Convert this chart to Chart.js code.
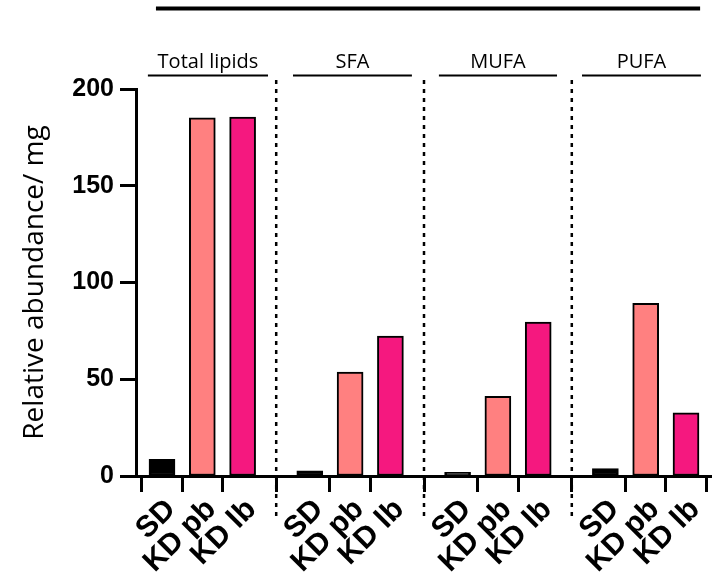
<!DOCTYPE html>
<html>
<head>
<meta charset="utf-8">
<script src="https://cdn.jsdelivr.net/npm/chart.js@4/dist/chart.umd.min.js"></script>
<style>
  html, body { margin: 0; padding: 0; background: #fff; }
  #wrap { width: 712px; height: 578px; }
</style>
</head>
<body>
<div id="wrap"><canvas id="c" width="712" height="578"></canvas></div>
<script>
// Lipid classes shown as bar groups, and the diet conditions inside each group
const groups = ['Total lipids', 'SFA', 'MUFA', 'PUFA'];
const conditions = ['SD', 'KD pb', 'KD lb'];

// Relative abundance per mg, one value per lipid class
const sdValues   = [8.6, 2.7, 1.9, 3.8];
const kdPbValues = [185.1, 53.7, 41.2, 89.2];
const kdLbValues = [185.5, 72.3, 79.6, 32.7];

const yTicks = [0, 50, 100, 150, 200];

const seriesValues = [sdValues, kdPbValues, kdLbValues];
const seriesColors = ['#000000', '#FF8080', '#F5187F'];

// Layout along the x scale: one slot per bar, groups separated by a wider gap
const GROUP_STEP = 11 / 3;
const xPos = (g, i) => g * GROUP_STEP + i;
const tickPositions = [];
groups.forEach((_, g) => conditions.forEach((_, i) => tickPositions.push(xPos(g, i))));

// Header underline spans (in slot units) for each lipid class
const headerSpans = [[-0.35, 2.63], [3.25, 6.20], [6.87, 9.80], [10.42, 13.37]];

const datasets = conditions.map((name, i) => ({
  label: name,
  data: seriesValues[i].map((v, g) => ({ x: xPos(g, i), y: v })),
  backgroundColor: seriesColors[i],
  borderColor: '#000000',
  borderWidth: 2,
  borderSkipped: false,
  barThickness: 26,
  grouped: false
}));

const annotations = {
  id: 'annotations',
  afterDraw(chart) {
    const { ctx, scales: { x, y } } = chart;
    ctx.save();

    // long bar across the top
    ctx.strokeStyle = '#000';
    ctx.lineWidth = 4;
    ctx.beginPath();
    ctx.moveTo(x.getPixelForValue(-0.15), 8.5);
    ctx.lineTo(x.getPixelForValue(13.35), 8.5);
    ctx.stroke();

    // lipid class headers with their underlines
    ctx.lineWidth = 2;
    ctx.fillStyle = '#000';
    ctx.font = '20px "Open Sans"';
    ctx.textAlign = 'center';
    ctx.textBaseline = 'alphabetic';
    groups.forEach((name, g) => {
      const x0 = x.getPixelForValue(headerSpans[g][0]);
      const x1 = x.getPixelForValue(headerSpans[g][1]);
      ctx.beginPath();
      ctx.moveTo(x0, 75.5);
      ctx.lineTo(x1, 75.5);
      ctx.stroke();
      ctx.fillText(name, (x0 + x1) / 2, 68);
    });

    // dotted separators between lipid classes
    ctx.setLineDash([4, 5]);
    ctx.lineWidth = 2.5;
    for (let g = 0; g < groups.length - 1; g++) {
      const px = x.getPixelForValue((xPos(g, 2) + xPos(g + 1, 0)) / 2);
      ctx.beginPath();
      ctx.moveTo(px, 80);
      ctx.lineTo(px, 519);
      ctx.stroke();
    }
    ctx.setLineDash([]);

    // y axis title
    ctx.translate(43, (y.top + y.bottom) / 2);
    ctx.rotate(-Math.PI / 2);
    ctx.font = '28px "Open Sans"';
    ctx.textAlign = 'center';
    ctx.fillText('Relative abundance/ mg', 0, 0);
    ctx.restore();
  }
};

new Chart(document.getElementById('c'), {
  type: 'bar',
  data: { datasets },
  plugins: [annotations],
  options: {
    responsive: false,
    animation: false,
    layout: { padding: { top: 89, left: 0, right: 0, bottom: 0 } },
    plugins: { legend: { display: false }, tooltip: { enabled: false } },
    scales: {
      x: {
        type: 'linear',
        min: -0.645,
        max: 13.645,
        offset: false,
        afterBuildTicks: s => { s.ticks = tickPositions.map(v => ({ value: v })); },
        afterFit: s => { s.height = 102; },
        ticks: {
          autoSkip: false,
          minRotation: 45,
          maxRotation: 45,
          padding: 0,
          labelOffset: 9,
          color: '#000',
          font: { family: '"Liberation Sans", Arial, sans-serif', weight: 'bold', size: 30 },
          callback: (v, idx) => conditions[idx % conditions.length]
        },
        grid: { drawOnChartArea: false, drawTicks: true, tickLength: 16, tickWidth: 3, tickColor: '#000' },
        border: { display: true, width: 3, color: '#000' }
      },
      y: {
        min: 0,
        max: 200,
        afterBuildTicks: s => { s.ticks = yTicks.map(v => ({ value: v })); },
        afterFit: s => { s.width = 136; },
        ticks: {
          padding: 6,
          color: '#000',
          font: { family: '"Liberation Sans", Arial, sans-serif', weight: 'bold', size: 25 }
        },
        grid: { drawOnChartArea: false, drawTicks: true, tickLength: 16, tickWidth: 3, tickColor: '#000' },
        border: { display: true, width: 3, color: '#000' }
      }
    }
  }
});
</script>
</body>
</html>
